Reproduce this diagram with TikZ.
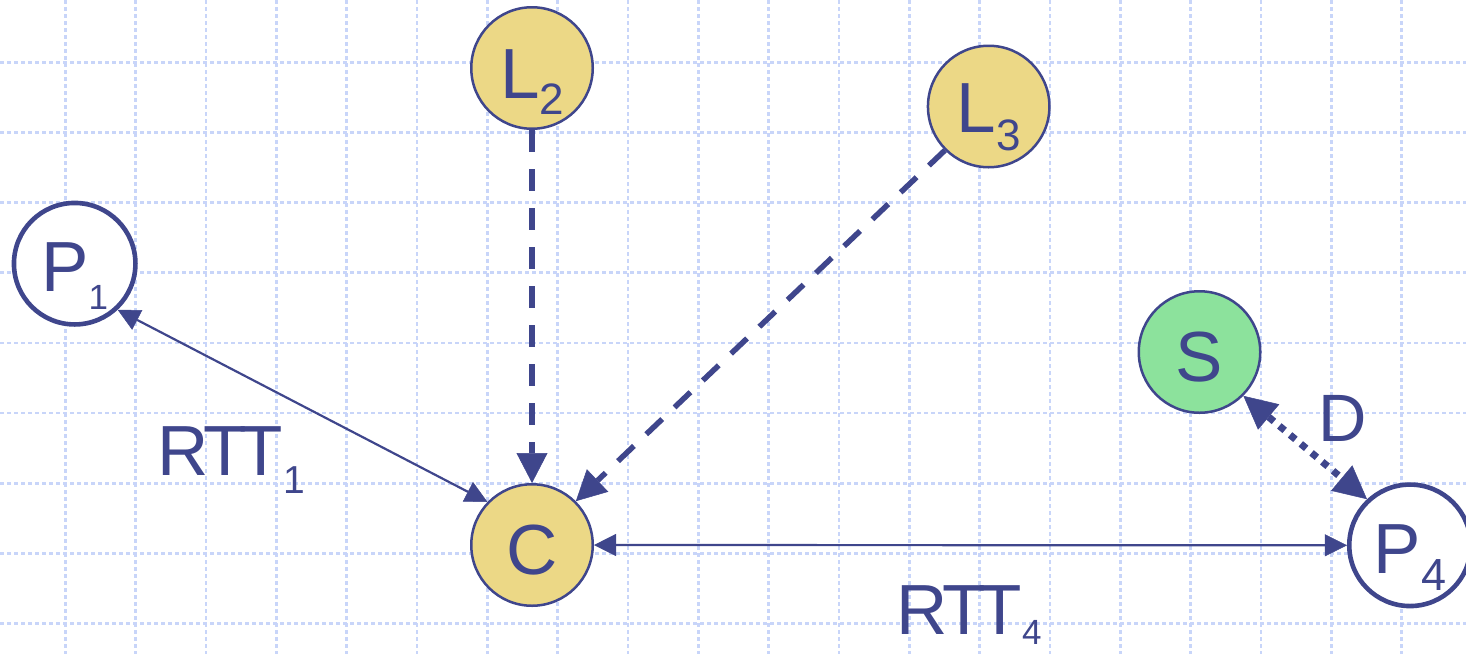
\documentclass[tikz,border=0pt]{standalone}
\usepackage{fontspec}
\setmainfont{Liberation Sans}
\usetikzlibrary{arrows.meta}

\definecolor{ink}{RGB}{63,70,140}
\definecolor{gridblue}{RGB}{200,213,249}
\definecolor{sand}{RGB}{236,216,134}
\definecolor{mint}{RGB}{140,226,156}

% lowered index: size, drop, text
\newcommand{\lowidx}[3]{\raisebox{-#2pt}{\fontsize{#1}{#1}\selectfont #3}}
\newcommand{\rttword}{R\kern-5pt T\kern-7pt T}

\tikzset{
  gridline/.style={draw=gridblue, line width=2.8pt, dash pattern=on 3.5pt off 3.5pt},
  station/.style={circle, draw=ink, minimum size=121.5pt, inner sep=0pt,
    text=ink, font=\fontsize{71}{71}\selectfont, text depth=0pt},
  landmark/.style={station, fill=sand, line width=2.5pt},
  peer/.style={station, fill=white, line width=4.6pt},
  server/.style={station, fill=mint, line width=2.5pt},
  tag/.style={text=ink, inner sep=0pt, anchor=base west},
  rtt/.style={draw=ink, line width=2.2pt,
    {Triangle[length=22pt,width=22pt,line width=0.5pt]}-{Triangle[length=22pt,width=22pt,line width=0.5pt]}},
  probe/.style={draw=ink, line width=5.5pt, dash pattern=on 22pt off 17pt,
    -{Triangle[length=30pt,width=31pt,line width=0.5pt]}},
  dist/.style={draw=ink, line width=7pt, dash pattern=on 7pt off 7pt,
    {Triangle[length=33pt,width=33pt,line width=0.5pt]}-{Triangle[length=33pt,width=33pt,line width=0.5pt]}},
}

\begin{document}
\begin{tikzpicture}[x=1pt, y=-1pt]
  \useasboundingbox (0,0) rectangle (1466,654);

  % background grid
  \foreach \i in {0,...,19}
    \draw[gridline] ({65.3+70.34*\i},0) -- ({65.3+70.34*\i},654);
  \foreach \j in {0,...,8}
    \draw[gridline] (0,{62.3+70.15*\j}) -- (1466,{62.3+70.15*\j});

  % hosts
  \node[landmark, text height=60pt] (L2) at (532,68) {L\lowidx{44}{16.7}{2}};
  \node[landmark, text height=52pt] (L3) at (988.7,106.5) {L\lowidx{44}{18.3}{3}};
  \node[peer, text height=56pt] (P1) at (74.7,263.7) {P\lowidx{35}{17.3}{1}};
  \node[landmark, text height=59pt] (C) at (532,545) {C};
  \node[server, text height=58pt] (S) at (1199.5,352) {S};
  \node[peer, text height=56pt] (P4) at (1410,545.3) {P\lowidx{45}{17.4}{4}};

  % measurements
  \draw[rtt] (P1.-47) -- (C.136);
  \draw[rtt] (C.east) -- (P4.west);
  \draw[probe] (L2.south) -- (C.north);
  \draw[probe] (L3.225) -- (C.45);
  \draw[dist] (S.-45) -- (P4.133);

  % labels
  \node[tag, font=\fontsize{71}{71}\selectfont] (rtt1) at (157,475.7) {\rttword\lowidx{39}{17.3}{1}};
  \node[tag, font=\fontsize{71}{71}\selectfont] (rtt4) at (896,634) {\rttword\lowidx{35}{10}{4}};
  \node[tag, font=\fontsize{67}{67}\selectfont] (dlab) at (1318,441.7) {D};
\end{tikzpicture}
\end{document}
